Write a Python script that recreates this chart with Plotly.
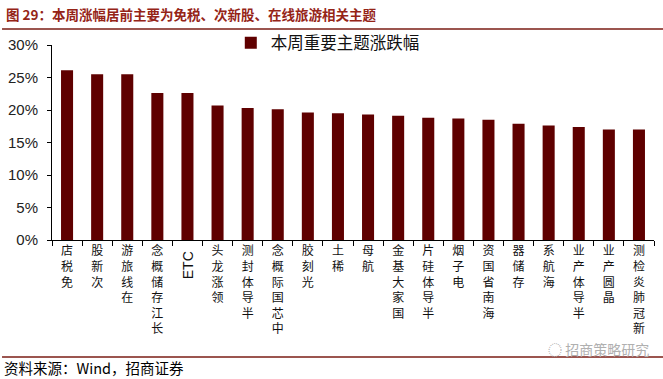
import plotly.graph_objects as go

categories = ["免税店", "次新股", "在线旅游", "长江存储概念", "ETC", "领涨龙头", "半导体封测",
              "中芯国际概念", "光刻胶", "稀土", "航母", "国家大基金", "半导体硅片", "电子烟",
              "海南省国资", "存储器", "海航系", "半导体产业", "晶圆产业", "新冠肺炎检测"]
values = [0.261, 0.255, 0.255, 0.226, 0.226, 0.207, 0.203, 0.201, 0.196, 0.195,
          0.193, 0.191, 0.188, 0.187, 0.185, 0.179, 0.176, 0.174, 0.170, 0.170]
series_name = "本周重要主题涨跌幅"
ytick_vals = [0, 0.05, 0.10, 0.15, 0.20, 0.25, 0.30]
ytick_text = ["0%", "5%", "10%", "15%", "20%", "25%", "30%"]
title_text = "图 29：本周涨幅居前主要为免税、次新股、在线旅游相关主题"
source_text = "资料来源：Wind，招商证券"
watermark_text = "招商策略研究"

BAR = "#5f0000"
TITLE_RED = "#952417"
CJK = "Noto Sans CJK SC"


def stacked(label):
    # upright characters stacked, read bottom-to-top like the reference
    if label.isascii():
        return ""
    return "<br>".join(reversed(list(label)))


fig = go.Figure()
fig.add_trace(go.Bar(x=categories, y=values, name=series_name, marker_color=BAR,
                     marker_line_width=0, showlegend=True))

fig.update_layout(
    width=663, height=379,
    margin=dict(l=52, r=9, t=45, b=139, autoexpand=False),
    paper_bgcolor="white", plot_bgcolor="white",
    bargap=0.6,
    font=dict(family=CJK, color="#000"),
    legend=dict(x=0.297, y=1.01, xanchor="left", yanchor="middle", bgcolor="rgba(0,0,0,0)",
                font=dict(family=CJK, size=16.5, color="#111"), itemwidth=30,
                tracegroupgap=0),
    xaxis=dict(type="category", tickson="boundaries", ticks="outside", ticklen=5,
               tickcolor="#000", showline=True, linecolor="#000", linewidth=1,
               tickmode="array", tickvals=categories,
               ticktext=[stacked(c) for c in categories],
               tickangle=0, tickfont=dict(family=CJK, size=12, color="#111"),
               showgrid=False),
    yaxis=dict(range=[0, 0.30], tickmode="array", tickvals=ytick_vals, ticktext=ytick_text,
               ticks="outside", ticklen=4, tickcolor="#000", showline=True,
               linecolor="#000", linewidth=1, showgrid=False, zeroline=False,
               ticklabelstandoff=6,
               tickfont=dict(family="Liberation Sans", size=15, color="#222")),
)

# ETC label rotated like the reference
for c in categories:
    if c.isascii():
        fig.add_annotation(x=c, xref="x", y=-0.045, yref="paper", text=c,
                           textangle=-90, showarrow=False, xanchor="center",
                           yanchor="top", font=dict(family="Liberation Sans", size=14, color="#111"))

fig.add_annotation(x=-0.08, xref="paper", y=1.159, yref="paper", text="<b>" + title_text + "</b>",
                   showarrow=False, xanchor="left", yanchor="middle",
                   font=dict(family=CJK, size=13.5, color=TITLE_RED))
fig.add_annotation(x=-0.083, xref="paper", y=-0.656, yref="paper", text=source_text,
                   showarrow=False, xanchor="left", yanchor="middle",
                   font=dict(family=CJK, size=14.5, color="#000"))
fig.add_annotation(x=0.995, xref="paper", y=-0.56, yref="paper", text="◌ " + watermark_text,
                   showarrow=False, xanchor="right", yanchor="middle",
                   font=dict(family=CJK, size=14, color="#b0b0b0"))

fig.add_shape(type="line", xref="paper", yref="paper", x0=-0.083, x1=1.015, y0=1.082, y1=1.082,
              line=dict(color="#7a1c14", width=1.5))
fig.add_shape(type="line", xref="paper", yref="paper", x0=-0.083, x1=1.015, y0=-0.6, y1=-0.6,
              line=dict(color="#7a1c14", width=1.5))

fig.write_html("out.html", config={"displayModeBar": False},
               post_script="document.body.style.margin='0';document.body.style.overflow='hidden';")
